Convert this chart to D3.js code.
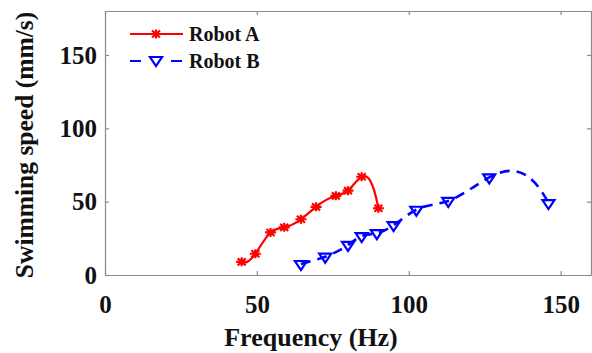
<!DOCTYPE html>
<html>
<head>
<meta charset="utf-8">
<script src="https://cdn.jsdelivr.net/npm/d3@7"></script>
<style>
  body { margin: 0; background: #fff; }
</style>
</head>
<body>
<div id="chart"></div>
<script>
// data
var freqA  = [45, 49.5, 54.5, 59, 64.5, 69.5, 76, 80, 84.5, 90];
var speedA = [9, 14.5, 29, 32.5, 38, 46.5, 54, 57.5, 67, 45.5];
var freqB  = [64.5, 72.5, 80, 84.5, 89.5, 95, 102.5, 113, 126.5, 146];
var speedB = [7.5, 12.5, 20.5, 26.5, 28.5, 34, 44.5, 50.5, 66.5, 49];
var xTicks = [0, 50, 100, 150];
var yTicks = [0, 50, 100, 150];

var W = 592, H = 353;
var margin = {top: 11, right: 1, bottom: 78, left: 105},
    width = W - margin.left - margin.right,
    height = H - margin.top - margin.bottom;

var FONT = "'Liberation Serif', 'Times New Roman', serif";

//cubic spline in x (not-a-knot ends), drawn as bezier segments
function curveSpline(context) {
  var pts;
  return {
    areaStart: function() {}, areaEnd: function() {},
    lineStart: function() { pts = []; },
    point: function(px, py) { pts.push([+px, +py]); },
    lineEnd: function() {
      var n = pts.length - 1;
      if (n < 1) return;
      context.moveTo(pts[0][0], pts[0][1]);
      if (n < 3) { for (var k = 1; k <= n; k++) context.lineTo(pts[k][0], pts[k][1]); return; }
      var h = [], s = [];
      for (var i = 0; i < n; i++) {
        h[i] = pts[i + 1][0] - pts[i][0];
        s[i] = (pts[i + 1][1] - pts[i][1]) / h[i];
      }
      // equations for M[1..n-1]
      var m = n - 1, a = [], b = [], c = [], r = [];
      for (var i = 1; i <= m; i++) {
        a[i] = h[i - 1]; b[i] = 2 * (h[i - 1] + h[i]); c[i] = h[i];
        r[i] = 6 * (s[i] - s[i - 1]);
      }
      b[1] += h[0] + h[0] * h[0] / h[1];
      c[1] -= h[0] * h[0] / h[1];
      a[m] -= h[n - 1] * h[n - 1] / h[n - 2];
      b[m] += h[n - 1] + h[n - 1] * h[n - 1] / h[n - 2];
      // thomas algorithm
      for (var i = 2; i <= m; i++) {
        var w = a[i] / b[i - 1];
        b[i] -= w * c[i - 1];
        r[i] -= w * r[i - 1];
      }
      var M = [];
      M[m] = r[m] / b[m];
      for (var i = m - 1; i >= 1; i--) M[i] = (r[i] - c[i] * M[i + 1]) / b[i];
      M[0] = M[1] * (1 + h[0] / h[1]) - M[2] * h[0] / h[1];
      M[n] = M[n - 1] * (1 + h[n - 1] / h[n - 2]) - M[n - 2] * h[n - 1] / h[n - 2];
      for (var i = 0; i < n; i++) {
        var d0 = s[i] - h[i] * (2 * M[i] + M[i + 1]) / 6,
            d1 = s[i] + h[i] * (M[i] + 2 * M[i + 1]) / 6;
        context.bezierCurveTo(
          pts[i][0] + h[i] / 3, pts[i][1] + d0 * h[i] / 3,
          pts[i + 1][0] - h[i] / 3, pts[i + 1][1] - d1 * h[i] / 3,
          pts[i + 1][0], pts[i + 1][1]);
      }
    }
  };
}

var svg = d3.select("#chart").append("svg")
    .attr("width", W).attr("height", H);

var g = svg.append("g")
    .attr("transform", "translate(" + margin.left + "," + margin.top + ")");

var x = d3.scaleLinear().domain([0, 160]).range([0, width]);
var y = d3.scaleLinear().domain([0, 180]).range([height, 0]);

var axisColor = "#8a8a8a";

//axes, ticks pointing inward
g.append("g").attr("class", "axis")
  .attr("transform", "translate(0," + height + ")")
  .call(d3.axisBottom(x).tickValues(xTicks).tickSize(-4).tickSizeOuter(0).tickPadding(20));
g.append("g").attr("class", "axis")
  .call(d3.axisLeft(y).tickValues(yTicks).tickSize(-4).tickSizeOuter(0).tickPadding(8));
g.append("g").attr("class", "axis")
  .call(d3.axisTop(x).tickValues(xTicks).tickSize(-4).tickSizeOuter(0).tickFormat(""));
g.append("g").attr("class", "axis")
  .attr("transform", "translate(" + width + ",0)")
  .call(d3.axisRight(y).tickValues(yTicks).tickSize(-4).tickSizeOuter(0).tickFormat(""));

g.selectAll(".axis path, .axis line").attr("stroke", axisColor).attr("stroke-width", 1.2);
g.selectAll(".axis text")
  .style("font-size", "25px")
  .style("font-family", FONT)
  .style("font-weight", "bold")
  .attr("fill", "#111");

//axis labels
svg.append("text")
  .attr("x", 311).attr("y", 346)
  .attr("text-anchor", "middle")
  .style("font-family", FONT).style("font-weight", "bold").style("font-size", "26px")
  .attr("fill", "#111")
  .text("Frequency (Hz)");

svg.append("text")
  .attr("transform", "translate(33,145) rotate(-90)")
  .attr("text-anchor", "middle")
  .style("font-family", FONT).style("font-weight", "bold").style("font-size", "25.5px")
  .attr("fill", "#111")
  .text("Swimming speed (mm/s)");

//markers
var starPath = "M-5.5,0H5.5M0,-4.5V4.5M-4,-3.5L4,3.5M-4,3.5L4,-3.5";
var triPath = "M-6,-3L6,-3L0,6Z";

var dataA = freqA.map(function(f, i) { return [f, speedA[i]]; });
var dataB = freqB.map(function(f, i) { return [f, speedB[i]]; });

var line = d3.line()
  .x(function(d) { return x(d[0]); })
  .y(function(d) { return y(d[1]); })
  .curve(curveSpline);

//Robot A
g.append("path").datum(dataA)
  .attr("d", line)
  .attr("fill", "none")
  .attr("stroke", "#ff0000")
  .attr("stroke-width", 2.2);
g.selectAll(".mA").data(dataA).enter().append("path")
  .attr("class", "mA")
  .attr("transform", function(d) { return "translate(" + x(d[0]) + "," + y(d[1]) + ")"; })
  .attr("d", starPath)
  .attr("stroke", "#ff0000")
  .attr("stroke-width", 2.2)
  .attr("fill", "none");

//Robot B
g.append("path").datum(dataB)
  .attr("d", line)
  .attr("fill", "none")
  .attr("stroke", "#0000ff")
  .attr("stroke-width", 2.6)
  .attr("stroke-dasharray", "10,7");
g.selectAll(".mB").data(dataB).enter().append("path")
  .attr("class", "mB")
  .attr("transform", function(d) { return "translate(" + x(d[0]) + "," + y(d[1]) + ")"; })
  .attr("d", triPath)
  .attr("stroke", "#0000ff")
  .attr("stroke-width", 2.2)
  .attr("fill", "none");

//legend
var legend = svg.append("g");
legend.append("line")
  .attr("x1", 130).attr("x2", 183).attr("y1", 34).attr("y2", 34)
  .attr("stroke", "#ff0000").attr("stroke-width", 2);
legend.append("path")
  .attr("transform", "translate(156,34)")
  .attr("d", starPath)
  .attr("stroke", "#ff0000").attr("stroke-width", 2.2).attr("fill", "none");
legend.append("text")
  .attr("x", 189).attr("y", 41)
  .style("font-family", FONT).style("font-weight", "bold").style("font-size", "20px")
  .attr("fill", "#111")
  .text("Robot A");

legend.selectAll(".dash").data([[130, 141], [171, 182]]).enter().append("line")
  .attr("x1", function(d) { return d[0]; }).attr("x2", function(d) { return d[1]; })
  .attr("y1", 61).attr("y2", 61)
  .attr("stroke", "#0000ff").attr("stroke-width", 2);
legend.append("path")
  .attr("transform", "translate(156,60)")
  .attr("d", triPath)
  .attr("stroke", "#0000ff").attr("stroke-width", 2.2).attr("fill", "none");
legend.append("text")
  .attr("x", 189).attr("y", 68)
  .style("font-family", FONT).style("font-weight", "bold").style("font-size", "20px")
  .attr("fill", "#111")
  .text("Robot B");
</script>
</body>
</html>
